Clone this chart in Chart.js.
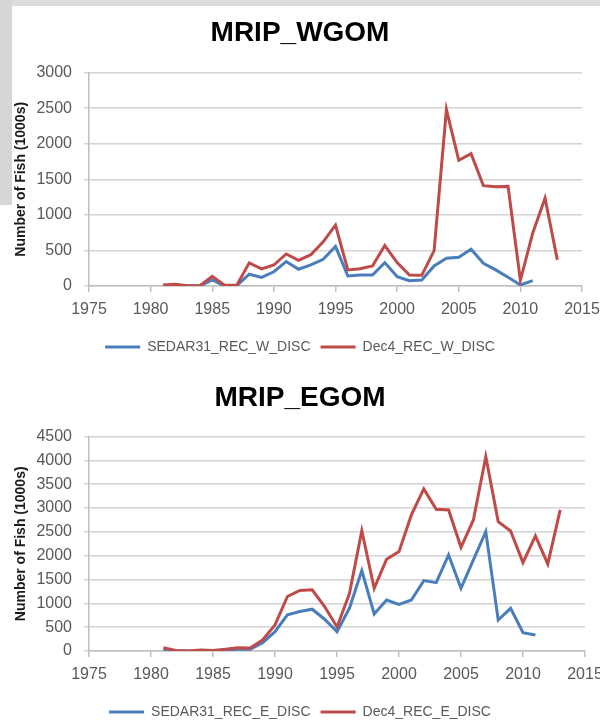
<!DOCTYPE html>
<html>
<head>
<meta charset="utf-8">
<title>MRIP WGOM / EGOM</title>
<script src="https://cdn.jsdelivr.net/npm/chart.js@4.4.1/dist/chart.umd.min.js"></script>
<style>
  html, body { margin: 0; padding: 0; background: #fff; width: 600px; height: 721px; overflow: hidden; }
  .strip-top { position: absolute; left: 0; top: 0; width: 600px; height: 6px; background: #dcdcdc; }
  .strip-left { position: absolute; left: 0; top: 0; width: 12px; height: 205px; background: #d6d6d6; }
  canvas { position: absolute; left: 0; }
</style>
</head>
<body>
<div class="strip-top"></div>
<div class="strip-left"></div>
<canvas id="wgomChart" width="600" height="364" style="top:0px"></canvas>
<canvas id="egomChart" width="600" height="369" style="top:360px"></canvas>
<script>
// years
const yearsRed = [1981, 1982, 1983, 1984, 1985, 1986, 1987, 1988, 1989, 1990,
  1991, 1992, 1993, 1994, 1995, 1996, 1997, 1998, 1999, 2000,
  2001, 2002, 2003, 2004, 2005, 2006, 2007, 2008, 2009, 2010,
  2011, 2012, 2013];
const yearsBlue = yearsRed.slice(0, 31); // SEDAR31 stops at 2011

// West Gulf (1000s of fish)
const sedarW = [5, 5, 0, 0, 85, 0, 5, 165, 120, 200,
  343, 235, 296, 375, 555, 141, 155, 155, 329, 132,
  75, 85, 282, 390, 404, 517, 320, 226, 122, 14,
  75];
const dec4W = [15, 25, 5, 5, 135, 10, 15, 325, 240, 295,
  450, 360, 440, 620, 855, 226, 244, 282, 569, 330,
  155, 150, 498, 2480, 1767, 1861, 1410, 1395, 1400, 80,
  743, 1236, 367];

// East Gulf
const sedarE = [21, 0, 0, 0, 0, 10, 35, 35, 175, 407,
  758, 828, 877, 667, 406, 896, 1687, 777, 1071, 980,
  1071, 1477, 1435, 2016, 1316, 1911, 2506, 651, 896, 385,
  336];
const dec4E = [70, 10, 0, 21, 10, 35, 70, 63, 232, 548,
  1144, 1270, 1285, 934, 505, 1200, 2527, 1316, 1925, 2086,
  2856, 3402, 2975, 2961, 2177, 2751, 4081, 2716, 2520, 1855,
  2415, 1827, 2961];

const xTicks = [1975, 1980, 1985, 1990, 1995, 2000, 2005, 2010, 2015];

Chart.defaults.font.family = "'Liberation Sans', Arial, sans-serif";
Chart.defaults.color = '#595959';

const BLUE = '#4a7ebb';
const RED = '#be4b48';

const toPoints = (xs, ys) => xs.map((x, i) => ({ x: x, y: ys[i] }));

function makeChart(id, opts) {
  const ctx = document.getElementById(id);
  return new Chart(ctx, {
    type: 'line',
    data: {
      datasets: [
        {
          label: opts.blueLabel,
          data: toPoints(yearsBlue, opts.blue),
          borderColor: BLUE,
          backgroundColor: BLUE,
          borderWidth: 3,
          pointRadius: 0,
          tension: 0,
          order: 1
        },
        {
          label: opts.redLabel,
          data: toPoints(yearsRed, opts.red),
          borderColor: RED,
          backgroundColor: RED,
          borderWidth: 3,
          pointRadius: 0,
          tension: 0,
          order: 0
        }
      ]
    },
    options: {
      responsive: false,
      animation: false,
      layout: { padding: { left: 0, right: 0, top: 0, bottom: 0 } },
      plugins: {
        title: {
          display: true,
          text: opts.title,
          color: '#000',
          font: { size: 28, weight: 'bold' },
          padding: opts.titlePadding
        },
        legend: {
          position: 'bottom',
          labels: {
            usePointStyle: true,
            pointStyle: 'line',
            pointStyleWidth: 35,
            boxWidth: 35,
            padding: 10,
            color: '#595959',
            font: { size: 14 },
            sort: (a, b) => a.datasetIndex - b.datasetIndex
          }
        },
        tooltip: { enabled: false }
      },
      scales: {
        x: {
          type: 'linear',
          min: 1975,
          max: 2015,
          afterBuildTicks: (scale) => {
            scale.ticks = xTicks.map(v => ({ value: v }));
          },
          afterFit: (scale) => {
            scale.height = 44;
            scale.paddingRight = opts.rightGap;
          },
          ticks: {
            font: { size: 16 },
            color: '#595959',
            padding: 8,
            maxRotation: 0,
            callback: (v) => String(v)
          },
          grid: {
            drawOnChartArea: false,
            drawTicks: true,
            tickLength: 6,
            color: '#bfbfbf',
            lineWidth: 1.5
          },
          border: { display: true, color: '#bfbfbf', width: 1.5 }
        },
        y: {
          min: 0,
          max: opts.yMax,
          afterBuildTicks: (scale) => {
            scale.ticks = opts.yTicks.map(v => ({ value: v }));
          },
          afterFit: (scale) => { scale.width = 89; },
          ticks: {
            font: { size: 16 },
            color: '#595959',
            padding: 12,
            callback: (v) => String(v)
          },
          grid: {
            color: '#d4d4d4',
            lineWidth: 1.5,
            drawTicks: true,
            tickLength: 5
          },
          border: { display: true, color: '#bfbfbf', width: 1.5 },
          title: {
            display: true,
            text: 'Number of Fish (1000s)',
            color: '#1a1a1a',
            font: { size: 14, weight: 'bold' },
            padding: { top: 13, bottom: 0 }
          }
        }
      }
    }
  });
}

makeChart('wgomChart', {
  title: 'MRIP_WGOM',
  titlePadding: { top: 16, bottom: 23 },
  blueLabel: 'SEDAR31_REC_W_DISC',
  redLabel: 'Dec4_REC_W_DISC',
  blue: sedarW,
  red: dec4W,
  yMax: 3000,
  yTicks: [0, 500, 1000, 1500, 2000, 2500, 3000],
  rightGap: 18
});

makeChart('egomChart', {
  title: 'MRIP_EGOM',
  titlePadding: { top: 21, bottom: 22 },
  blueLabel: 'SEDAR31_REC_E_DISC',
  redLabel: 'Dec4_REC_E_DISC',
  blue: sedarE,
  red: dec4E,
  yMax: 4500,
  yTicks: [0, 500, 1000, 1500, 2000, 2500, 3000, 3500, 4000, 4500],
  rightGap: 15
});
</script>
</body>
</html>
